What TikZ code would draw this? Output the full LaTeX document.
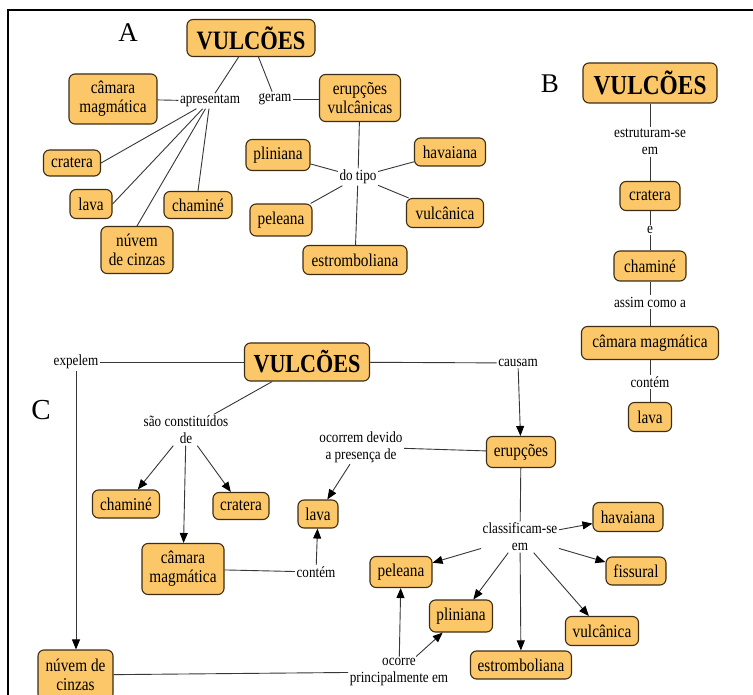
\documentclass[tikz,border=0pt]{standalone}
\usepackage{fontspec}
\setmainfont[FakeStretch=0.85]{Liberation Serif}
\newfontfamily\plainserif{Liberation Serif}
\usetikzlibrary{arrows.meta}
\definecolor{boxfill}{RGB}{251,199,104}
\definecolor{boxline}{RGB}{60,45,20}
\definecolor{linkc}{RGB}{55,55,55}
\begin{document}
\begin{tikzpicture}[x=1pt,y=-1pt,
 cbox/.style={draw=boxline, fill=boxfill, rounded corners=6pt, line width=1.1pt, inner sep=1pt, align=center, font=\fontsize{18}{19}\selectfont},
 big/.style={cbox, font=\fontsize{26.5}{28}\selectfont\bfseries},
 lbl/.style={inner sep=1.5pt, align=center, font=\fontsize{15.5}{17}\selectfont},
 conn/.style={draw=linkc, line width=0.9pt},
 arr/.style={conn, -{Triangle[length=10pt,width=8pt,color=black]}},
 letter/.style={inner sep=0pt, font=\plainserif\fontsize{27}{30}\selectfont}
]
\useasboundingbox (0,0) rectangle (753,695);
\fill[white] (0,0) rectangle (753,695);
% frame
\coordinate (fbl) at (8,700);
\coordinate (ftl) at (8,10);
\coordinate (ftr) at (760,10);
\draw[line width=2pt] (fbl) -- (ftl) -- (ftr);

% ---------------- A ----------------
\node[letter] (LA) at (128,33) {A};
\node[big, minimum width=128pt, minimum height=37pt] (vA) at (251,38) {VULCÕES};
\node[cbox, minimum width=88pt, minimum height=50pt] (camA) at (113,99) {câmara\\magmática};
\node[cbox, minimum width=81pt, minimum height=47pt] (erA) at (360,98) {erupções\\vulcânicas};
\node[cbox, minimum width=57pt, minimum height=26pt] (craA) at (72,163) {cratera};
\node[cbox, minimum width=42pt, minimum height=29pt] (lavA) at (91,204) {lava};
\node[cbox, minimum width=68pt, minimum height=27pt] (chaA) at (198,205) {chaminé};
\node[cbox, minimum width=72pt, minimum height=47pt] (nuvA) at (137,250) {núvem\\de cinzas};
\node[cbox, minimum width=64pt, minimum height=31pt] (pliA) at (278,155) {pliniana};
\node[cbox, minimum width=71pt, minimum height=28pt] (havA) at (450,152) {havaiana};
\node[cbox, minimum width=62pt, minimum height=32pt] (pelA) at (281,220) {peleana};
\node[cbox, minimum width=77pt, minimum height=29pt] (vulA) at (445,213) {vulcânica};
\node[cbox, minimum width=104pt, minimum height=29pt] (estA) at (355,260) {estromboliana};
\node[lbl] (apr) at (210,101) {apresentam};
\node[lbl] (ger) at (275,99) {geram};
\node[lbl] (dot) at (358,177) {do tipo};

\draw[conn] (vA) -- (apr);
\draw[conn] (apr) -- (camA);
\draw[conn] (apr) -- (craA.east);
\draw[conn] (apr) -- (lavA.east);
\draw[conn] (apr) -- (nuvA.north);
\draw[conn] (apr) -- (chaA.north);
\draw[conn] (vA) -- (ger);
\draw[conn] (ger) -- (ger -| erA.west);
\draw[conn] (erA) -- (dot);
\draw[conn] (dot) -- (estA);
\draw[conn] (pliA) -- (dot);
\draw[conn] (havA) -- (dot);
\draw[conn] (pelA) -- (dot);
\draw[conn] (vulA) -- (dot);

% ---------------- B ----------------
\node[letter] (LB) at (550,84) {B};
\node[big, minimum width=134pt, minimum height=40pt, font=\fontsize{27.5}{29}\selectfont\bfseries] (vB) at (650,83) {VULCÕES};
\node[lbl] (estB) at (650,142) {estruturam-se\\em};
\node[cbox, minimum width=60pt, minimum height=29pt] (craB) at (650,196) {cratera};
\node[lbl] (eB) at (650,230) {e};
\node[cbox, minimum width=72pt, minimum height=30pt] (chaB) at (650,266) {chaminé};
\node[lbl] (asB) at (650,302) {assim como a};
\node[cbox, minimum width=137pt, minimum height=33pt] (camB) at (650,343) {câmara magmática};
\node[lbl] (conB) at (650,382) {contém};
\node[cbox, minimum width=43pt, minimum height=29pt] (lavB) at (650,417) {lava};
\draw[conn] (vB) -- (estB);
\draw[conn] (estB) -- (craB);
\draw[conn] (craB) -- (eB);
\draw[conn] (eB) -- (chaB);
\draw[conn] (chaB) -- (asB);
\draw[conn] (asB) -- (camB);
\draw[conn] (camB) -- (conB);
\draw[conn] (conB) -- (lavB);

% ---------------- C ----------------
\node[letter, font=\plainserif\fontsize{29}{32}\selectfont] (LC) at (41,410) {C};
\node[big, minimum width=125pt, minimum height=38pt, font=\fontsize{26}{28}\selectfont\bfseries] (vC) at (307,362) {VULCÕES};
\node[lbl] (exp) at (76,362) {expelem};
\node[lbl] (sao) at (186,430) {são constituídos\\de};
\node[cbox, minimum width=67pt, minimum height=28pt] (chaC) at (126,504) {chaminé};
\node[cbox, minimum width=56pt, minimum height=27pt] (craC) at (241,506) {cratera};
\node[cbox, minimum width=82pt, minimum height=51pt] (camC) at (183,569) {câmara\\magmática};
\node[cbox, minimum width=40pt, minimum height=28pt] (lavC) at (318,514) {lava};
\node[lbl] (conC) at (316,572) {contém};
\node[lbl] (oco) at (361,447) {ocorrem devido\\a presença de};
\node[lbl] (cau) at (518,363) {causam};
\node[cbox, minimum width=69pt, minimum height=31pt] (erC) at (521,452) {erupções};
\node[lbl] (cla) at (520,537) {classificam-se\\em};
\node[cbox, minimum width=70pt, minimum height=29pt] (havC) at (628,517) {havaiana};
\node[cbox, minimum width=60pt, minimum height=28pt] (fisC) at (636,571) {fissural};
\node[cbox, minimum width=62pt, minimum height=31pt] (pelC) at (401,572) {peleana};
\node[cbox, minimum width=63pt, minimum height=32pt] (pliC) at (461,616) {pliniana};
\node[cbox, minimum width=101pt, minimum height=28pt] (estC) at (521,665) {estromboliana};
\node[cbox, minimum width=73pt, minimum height=29pt] (vulC) at (602,631) {vulcânica};
\node[cbox, minimum width=75pt, minimum height=50pt] (nuvC) at (75.5,675) {núvem de\\cinzas};
\node[lbl] (ocp) at (399,672) {ocorre\\principalmente em};

\draw[conn] (exp) -- (vC);
\draw[arr] (exp) -- (exp |- nuvC.north);
\draw[conn] (vC) -- (sao);
\draw[arr] (sao) -- (chaC);
\draw[arr] (sao) -- (camC);
\draw[arr] (sao) -- (craC);
\draw[conn] (camC) -- (conC);
\draw[arr] (conC) -- (lavC);
\draw[arr] (oco) -- (lavC);
\draw[conn] (oco) -- (erC);
\draw[conn] (vC) -- (cau);
\draw[arr] (cau) -- (erC);
\draw[conn] (erC) -- (cla);
\draw[arr] (cla) -- (havC);
\draw[arr] (cla) -- (fisC);
\draw[arr] (cla) -- (pelC);
\draw[arr] (cla) -- (pliC);
\draw[arr] (cla) -- (estC);
\draw[arr] (cla) -- (vulC);
\draw[conn] (nuvC) -- (ocp);
\draw[arr] (ocp) -- (pelC);
\draw[arr] (ocp) -- (pliC);
\end{tikzpicture}
\end{document}
